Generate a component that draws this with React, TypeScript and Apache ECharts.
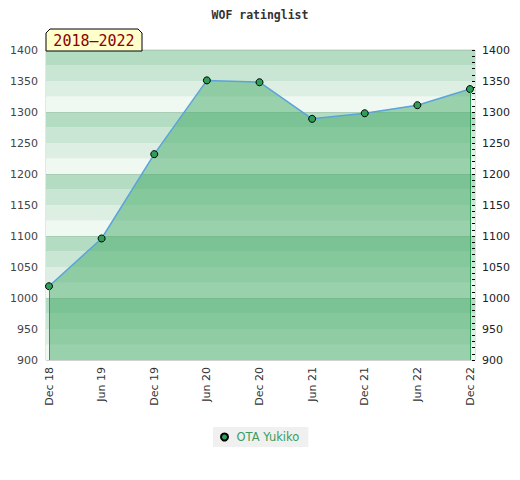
import React, { useEffect, useRef } from "react";
import * as echarts from "echarts";

const categories = ["Dec 18", "Jun 19", "Dec 19", "Jun 20", "Dec 20", "Jun 21", "Dec 21", "Jun 22", "Dec 22"];
const ratings = [1019, 1096, 1232, 1351, 1348, 1289, 1298, 1311, 1337];
const seriesName = "OTA Yukiko";
const titleText = "WOF ratinglist";
const periodText = "2018–2022";
const yMin = 900;
const yMax = 1400;

export default function App() {
  const ref = useRef<HTMLDivElement>(null);
  useEffect(() => {
    document.body.style.margin = "0";
    if (!ref.current) return;
    const chart = echarts.init(ref.current, null, { renderer: "svg" });
    const font = "DejaVu Sans";
    const last = categories.length - 1;
    const plain = (v: number) => String(v);
    chart.setOption({
      animation: false,
      backgroundColor: "#ffffff",
      title: {
        text: titleText,
        left: "center",
        top: 4,
        textStyle: { fontFamily: "DejaVu Sans Mono", fontWeight: "bold", fontSize: 11.5, color: "#333" },
      },
      legend: {
        data: [seriesName],
        left: 213,
        top: 427,
        backgroundColor: "#f0f0f0",
        padding: [4, 9, 4, 7],
        itemWidth: 14,
        itemHeight: 7,
        icon: "circle",
        textStyle: { fontFamily: font, fontSize: 11.5, color: "#3a9d5d" },
      },
      grid: [
        { left: 46, right: 45, top: 50, bottom: 120, show: true, borderColor: "#cccccc", borderWidth: 1, backgroundColor: "transparent" },
        { left: 49, right: 50, top: 50, bottom: 120 },
      ],
      xAxis: [
        { type: "value", gridIndex: 0, min: 0, max: 1, show: false },
        {
          type: "category",
          gridIndex: 1,
          data: categories,
          boundaryGap: false,
          axisLine: { show: false },
          axisTick: { show: false },
          axisLabel: { rotate: 90, margin: 7, fontFamily: font, fontSize: 11, color: "#333" },
          splitLine: { show: false },
        },
      ],
      yAxis: [
        {
          type: "value",
          gridIndex: 0,
          position: "left",
          min: yMin,
          max: yMax,
          interval: 50,
          axisLine: { show: false },
          axisTick: { show: false },
          splitLine: { show: false },
          axisLabel: { margin: 8, fontFamily: font, fontSize: 11, color: "#444", formatter: plain },
        },
        {
          type: "value",
          gridIndex: 0,
          position: "right",
          min: yMin,
          max: yMax,
          interval: 50,
          axisLine: { show: false },
          axisTick: { show: true, inside: true, length: 3, lineStyle: { color: "#000" } },
          minorTick: { show: true, splitNumber: 5, length: 3, lineStyle: { color: "#000" } },
          splitLine: { show: false },
          axisLabel: { margin: 7, fontFamily: font, fontSize: 11, color: "#222", formatter: plain },
        },
        {
          type: "value",
          gridIndex: 0,
          min: yMin,
          max: yMax,
          interval: 25,
          axisLine: { show: false },
          axisTick: { show: false },
          axisLabel: { show: false },
          splitLine: { show: false },
          splitArea: { show: true, areaStyle: { color: ["#f0f8f2", "#dcefe2", "#c8e6d3", "#b4dcc2"] } },
        },
        {
          type: "value",
          gridIndex: 0,
          min: yMin,
          max: yMax,
          interval: 100,
          axisLine: { show: false },
          axisTick: { show: false },
          axisLabel: { show: false },
          splitLine: { show: true, lineStyle: { color: "rgba(120,140,125,0.2)", width: 1 } },
        },
        {
          type: "value",
          gridIndex: 1,
          min: yMin,
          max: yMax,
          show: false,
        },
      ],
      series: [
        {
          name: seriesName,
          type: "line",
          xAxisIndex: 1,
          yAxisIndex: 4,
          data: ratings,
          symbol: "circle",
          symbolSize: 7,
          itemStyle: { color: "#2e9e58", borderColor: "#000", borderWidth: 1 },
          lineStyle: { color: "#5ba3dc", width: 1.5 },
          areaStyle: { color: "rgba(66,170,102,0.5)", opacity: 1, origin: "start" },
          markLine: {
            silent: true,
            symbol: "none",
            label: { show: false },
            lineStyle: { color: "#2f9a55", width: 1, type: "solid" },
            data: [
              [{ coord: [categories[0], yMin] }, { coord: [categories[0], ratings[0]] }],
              [{ coord: [categories[last], yMin] }, { coord: [categories[last], ratings[last]] }],
            ],
          },
          z: 3,
        },
      ],
      graphic: [
        {
          type: "polygon",
          shape: { points: [[46, 33], [50, 29], [138, 29], [142, 33], [142, 51], [46, 51]] },
          style: { fill: "#ffffcc", stroke: "#000", lineWidth: 1 },
          z: 10,
        },
        {
          type: "text",
          x: 94,
          y: 41,
          style: {
            text: periodText,
            fill: "#8b0000",
            font: "15px 'DejaVu Sans Mono'",
            align: "center",
            verticalAlign: "middle",
          },
          z: 11,
        },
      ],
    });
    return () => chart.dispose();
  }, []);
  return <div ref={ref} style={{ width: 520, height: 480 }} />;
}
